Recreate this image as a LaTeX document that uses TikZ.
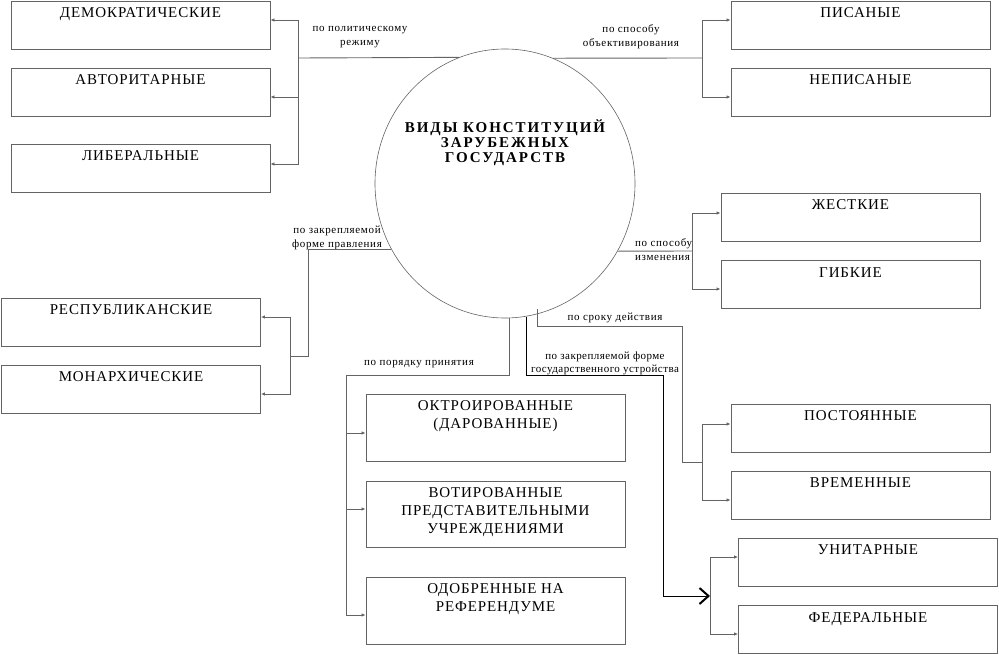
\documentclass[tikz,border=0pt]{standalone}
\usepackage{fontspec}
\setmainfont{Liberation Serif}
\usepackage{tikz}
\usetikzlibrary{shapes.geometric}
\usetikzlibrary{arrows.meta}
\definecolor{linegray}{RGB}{100,100,100}

\begin{document}
\begin{tikzpicture}[x=1pt,y=-1pt]
      \useasboundingbox (0,0) rectangle (999,655);
      \tikzstyle {kind} = [shape=rectangle, draw=linegray, line width=0.9pt, minimum width=259pt, minimum height=48pt, inner sep=0pt];
      \tikzstyle {kindtext} = [anchor=north, yshift=-4pt, inner sep=3pt, align=center, font=\fontsize{15}{18}\selectfont\addfontfeature{LetterSpace=6}];
      \tikzstyle {way} = [inner sep=0pt, align=center, font=\fontsize{11}{14}\selectfont\addfontfeature{LetterSpace=6}];
      \tikzstyle {link} = [draw=linegray, line width=0.9pt];
      \tikzstyle {branch} = [link, -{Latex[length=4pt,width=3.5pt]}];
      \tikzstyle {bigarrow} = [draw=black, line width=1pt, -{Straight Barb[length=9pt,width=16pt,line width=2pt]}];
      % centre
      \node (circ) [ellipse, draw=linegray, line width=0.6pt, minimum width=260pt, minimum height=269pt, inner sep=0pt] at (505,183.5) {};
      \node (title) [align=center, font=\fontsize{15}{15}\selectfont\bfseries\addfontfeature{LetterSpace=13}] at (505,143) {ВИДЫ КОНСТИТУЦИЙ\\ЗАРУБЕЖНЫХ\\ГОСУДАРСТВ};
      % boxes
      \node (dem) [kind, label={[kindtext]north:ДЕМОКРАТИЧЕСКИЕ}] at (140.5,25) {};
      \node (avt) [kind, label={[kindtext]north:АВТОРИТАРНЫЕ}] at (140.5,92) {};
      \node (lib) [kind, label={[kindtext]north:ЛИБЕРАЛЬНЫЕ}] at (140.5,168) {};
      \node (pis) [kind, label={[kindtext]north:ПИСАНЫЕ}] at (860.5,25) {};
      \node (nepis) [kind, label={[kindtext]north:НЕПИСАНЫЕ}] at (860.5,92) {};
      \node (zhest) [kind, label={[kindtext]north:ЖЕСТКИЕ}] at (850.5,217) {};
      \node (gib) [kind, label={[kindtext]north:ГИБКИЕ}] at (850.5,284.5) {};
      \node (resp) [kind, label={[kindtext]north:РЕСПУБЛИКАНСКИЕ}] at (131,322) {};
      \node (mon) [kind, label={[kindtext]north:МОНАРХИЧЕСКИЕ}] at (131,389) {};
      \node (oktr) [kind, minimum height=67pt, label={[kindtext]north:ОКТРОИРОВАННЫЕ\\(ДАРОВАННЫЕ)}] at (495.5,427.5) {};
      \node (vot) [kind, minimum height=66pt, label={[kindtext]north:ВОТИРОВАННЫЕ\\ПРЕДСТАВИТЕЛЬНЫМИ\\УЧРЕЖДЕНИЯМИ}] at (495.5,514) {};
      \node (odob) [kind, minimum height=67pt, label={[kindtext]north:ОДОБРЕННЫЕ НА\\РЕФЕРЕНДУМЕ}] at (495.5,610.5) {};
      \node (post) [kind, label={[kindtext]north:ПОСТОЯННЫЕ}] at (860.5,428) {};
      \node (vrem) [kind, label={[kindtext]north:ВРЕМЕННЫЕ}] at (860.5,495) {};
      \node (unit) [kind, label={[kindtext]north:УНИТАРНЫЕ}] at (868,562) {};
      \node (fed) [kind, label={[kindtext]north:ФЕДЕРАЛЬНЫЕ}] at (868,629.5) {};
      % criteria
      \node (polt) [way] at (360,37) {по политическому\\режиму};
      \node (objt) [way] at (631,37) {по способу\\объективирования};
      \node (pravt) [way] at (337,238) {по закрепляемой\\форме правления};
      \node (izmt) [way, anchor=west, align=left] at (635,250) {по способу\\изменения};
      \node (srokt) [way] at (615,318) {по сроку действия};
      \node (ustrt) [way, font=\fontsize{11}{13}\selectfont\addfontfeature{LetterSpace=4}] at (605,363) {по закрепляемой форме\\государственного устройства};
      \node (port) [way] at (419,364) {по порядку принятия};
      % junctions
      \coordinate (polj) at (298,58);
      \coordinate (objj) at (702,58);
      \coordinate (pravb) at (308,356);
      \coordinate (pravj) at (290,356);
      \coordinate (izmj) at (692,251);
      \coordinate (srokb) at (682,326);
      \coordinate (srokj) at (702,462);
      \coordinate (porj) at (346,375);
      \coordinate (ustrb) at (663,375);
      \coordinate (ustrj) at (710,596);
      % connectors
      \draw [link] (circ.110.5) -- (polj);
      \draw [branch] (polj) |- ([yshift=5pt]dem.east);
      \draw [branch] (polj) |- ([yshift=-5pt]avt.east);
      \draw [branch] (polj) |- ([yshift=4pt]lib.east);
      \draw [link] (circ.69.5) -- (objj);
      \draw [branch] (objj) |- ([yshift=5pt]pis.west);
      \draw [branch] (objj) |- ([yshift=-5pt]nepis.west);
      \draw [link] (circ.210.7) -| (pravb) -- (pravj);
      \draw [branch] (pravj) |- ([yshift=5pt]resp.east);
      \draw [branch] (pravj) |- ([yshift=-5pt]mon.east);
      \draw [link] (circ.329) -- (izmj);
      \draw [branch] (izmj) |- ([yshift=4pt]zhest.west);
      \draw [branch] (izmj) |- ([yshift=-4.5pt]gib.west);
      \draw [link] ([yshift=5pt]circ.284.7) |- (srokb) |- (srokj);
      \draw [branch] (srokj) |- ([yshift=4pt]post.west);
      \draw [branch] (srokj) |- ([yshift=-5pt]vrem.west);
      \draw [link] (circ.272.6) |- (porj);
      \draw [branch] (porj) |- ([yshift=-5.5pt]oktr.west);
      \draw [branch] (porj) |- ([yshift=5pt]vot.west);
      \draw [branch] (porj) |- ([yshift=-4.5pt]odob.west);
      \draw [bigarrow] (circ.279) |- (ustrb) |- (ustrj);
      \draw [branch] (ustrj) |- ([yshift=5pt]unit.west);
      \draw [branch] (ustrj) |- ([yshift=-4.5pt]fed.west);
\end{tikzpicture}
\end{document}
